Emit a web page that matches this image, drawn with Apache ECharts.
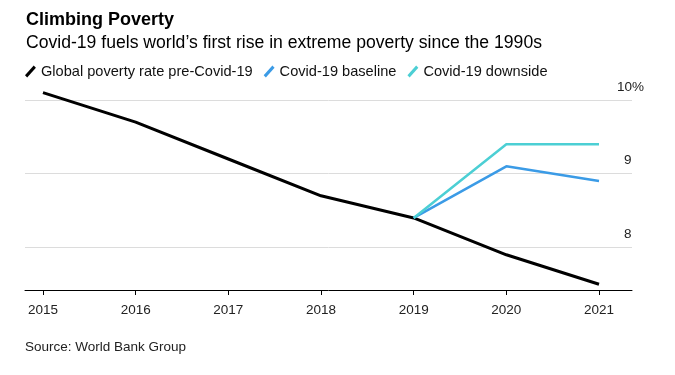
<!DOCTYPE html>
<html>
<head>
<meta charset="utf-8">
<script src="https://cdn.jsdelivr.net/npm/echarts@6/dist/echarts.min.js"></script>
<style>
  html, body { margin: 0; padding: 0; background: #fff; }
  #chart { width: 675px; height: 375px; }
</style>
</head>
<body>
<div id="chart"></div>
<script>
// data
const years = [2015, 2016, 2017, 2018, 2019, 2020, 2021];
const preCovid = [10.1, 9.7, 9.2, 8.7, 8.4, 7.9, 7.5];
const baseline = [null, null, null, null, 8.4, 9.1, 8.9];
const downside = [null, null, null, null, 8.4, 9.4, 9.4];
const yTicks = [8, 9, 10];

const FONT = '"Liberation Sans", Arial, sans-serif';
const slash = 'path://M0,10 L8,1 L10,3 L2,12 Z';

function pairs(vals) {
    return years.map((y, i) => [y, vals[i]]);
}

const chart = echarts.init(document.getElementById('chart'));

const option = {
    backgroundColor: '#fff',
    textStyle: { fontFamily: FONT },
    title: [
        {
            text: 'Climbing Poverty',
            left: 21, top: 6,
            textStyle: { fontFamily: FONT, fontSize: 18, fontWeight: 'bold', color: '#000' }
        },
        {
            text: 'Covid-19 fuels world’s first rise in extreme poverty since the 1990s',
            left: 21, top: 29,
            textStyle: { fontFamily: FONT, fontSize: 17.6, fontWeight: 'normal', color: '#000' }
        },
        {
            text: 'Source: World Bank Group',
            left: 20, top: 335,
            textStyle: { fontFamily: FONT, fontSize: 13.5, fontWeight: 'normal', color: '#222' }
        }
    ],
    legend: {
        left: 20, top: 59,
        itemWidth: 11, itemHeight: 12, itemGap: 11,
        textStyle: { fontFamily: FONT, fontSize: 14.6, color: '#111' },
        data: [
            { name: 'Global poverty rate pre-Covid-19', icon: slash, itemStyle: { color: '#000' } },
            { name: 'Covid-19 baseline', icon: slash, itemStyle: { color: '#3b9be6' } },
            { name: 'Covid-19 downside', icon: slash, itemStyle: { color: '#4ccfd4' } }
        ]
    },
    grid: { left: 25, right: 43, top: 85.3, bottom: 85 },
    xAxis: {
        type: 'value',
        min: 2014.806,
        max: 2021.356,
        axisLine: { show: true, lineStyle: { color: '#000', width: 1 } },
        axisTick: { show: true, length: 5, customValues: years, lineStyle: { color: '#000' } },
        axisLabel: {
            customValues: years,
            margin: 13,
            fontSize: 13.5, color: '#222', fontFamily: FONT,
            formatter: v => String(v)
        },
        splitLine: { show: false }
    },
    yAxis: {
        type: 'value',
        position: 'right',
        min: 7.422,
        max: 10.2,
        axisLine: { show: false },
        axisTick: { show: false, customValues: yTicks },
        axisLabel: {
            customValues: yTicks,
            margin: -15,
            align: 'left',
            verticalAlign: 'bottom',
            padding: [0, 0, 6, 0],
            fontSize: 13.5, color: '#222', fontFamily: FONT,
            formatter: v => v === 10 ? '10%' : '{p|' + v + '}',
            rich: { p: { padding: [0, 0, 0, 7], fontSize: 13.5, color: '#222', fontFamily: FONT } }
        },
        splitLine: { show: true, lineStyle: { color: '#dcdcdc', width: 1 } }
    },
    series: [
        {
            name: 'Global poverty rate pre-Covid-19',
            type: 'line',
            data: pairs(preCovid),
            clip: false,
            symbol: 'none',
            lineStyle: { color: '#000', width: 3 },
            itemStyle: { color: '#000' },
            z: 3
        },
        {
            name: 'Covid-19 baseline',
            type: 'line',
            data: pairs(baseline),
            clip: false,
            symbol: 'none',
            lineStyle: { color: '#3b9be6', width: 2.5 },
            itemStyle: { color: '#3b9be6' }
        },
        {
            name: 'Covid-19 downside',
            type: 'line',
            data: pairs(downside),
            clip: false,
            symbol: 'none',
            lineStyle: { color: '#4ccfd4', width: 2.5 },
            itemStyle: { color: '#4ccfd4' }
        }
    ]
};

chart.setOption(option);
</script>
</body>
</html>
